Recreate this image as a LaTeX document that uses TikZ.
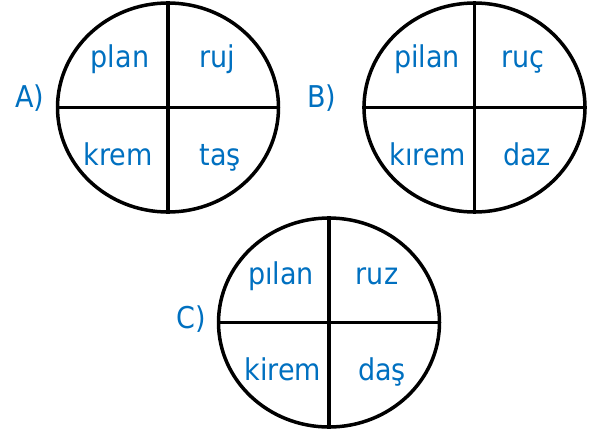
\documentclass[tikz,border=0pt]{standalone}
\usepackage{fontspec}
\setmainfont{DejaVu Sans Condensed}
\usepackage{tikz}
\usetikzlibrary{shapes.geometric}
\definecolor{wordblue}{RGB}{0,112,192}
\tikzset{
    disc/.style={draw=black, line width=3.5pt, ellipse, inner sep=0pt,
        minimum width=221pt, minimum height=209pt},
    word/.style={anchor=base, text=wordblue, inner sep=0pt,
        font=\fontsize{30pt}{36pt}\selectfont},
    cut/.style={draw=black, line width=3.5pt}
}
\begin{document}
\begin{tikzpicture}[x=1pt, y=-1pt]
    \useasboundingbox (0,0) rectangle (602,432);

    % option A
    \node[disc] (dA) at (168,107.5) {};
    \draw[cut] (dA.north) -- (dA.south);
    \draw[cut] (dA.west) -- (dA.east);
    \node[word] (lA) at (30,107) {A)};
    \node[word] (a1) at (120,67) {plan};
    \node[word] (a2) at (217,67) {ruj};
    \node[word] (a3) at (118,165) {krem};
    \node[word] (a4) at (220,165) {taş};

    % option B
    \node[disc] (dB) at (474.5,107.5) {};
    \draw[cut] (dB.north) -- (dB.south);
    \draw[cut] (dB.west) -- (dB.east);
    \node[word] (lB) at (322,107) {B)};
    \node[word] (b1) at (427,67) {pilan};
    \node[word] (b2) at (523,67) {ruç};
    \node[word] (b3) at (428,165) {kırem};
    \node[word] (b4) at (527,165) {daz};

    % option C
    \node[disc] (dC) at (329,322.5) {};
    \draw[cut] (dC.north) -- (dC.south);
    \draw[cut] (dC.west) -- (dC.east);
    \node[word] (lC) at (191,328) {C)};
    \node[word] (c1) at (281,284) {pılan};
    \node[word] (c2) at (377,284) {ruz};
    \node[word] (c3) at (283,380) {kirem};
    \node[word] (c4) at (382,380) {daş};
\end{tikzpicture}
\end{document}
